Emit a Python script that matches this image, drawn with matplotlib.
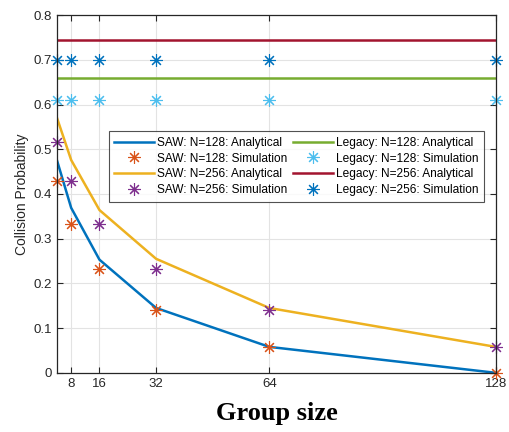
import numpy as np
import matplotlib.pyplot as plt

# group sizes
group = [4, 8, 16, 32, 64, 128]

# SAW analytical / simulation
saw128_ana = [0.475, 0.369, 0.253, 0.145, 0.058, 0.0]
saw128_sim = [0.43, 0.332, 0.232, 0.14, 0.058, 0.0]
saw256_ana = [0.57, 0.476, 0.364, 0.255, 0.145, 0.058]
saw256_sim = [0.516, 0.43, 0.332, 0.232, 0.14, 0.058]

# Legacy analytical / simulation
leg128_ana = [0.659] * 6
leg128_sim = [0.611] * 6
leg256_ana = [0.745] * 6
leg256_sim = [0.699] * 6

xticks = [8, 16, 32, 64, 128]
yticks = np.arange(0, 0.81, 0.1)

plt.rcParams['font.family'] = ['Liberation Sans', 'DejaVu Sans']

fig = plt.figure(figsize=(5.09, 4.32), dpi=100)
ax = fig.add_axes([0.112, 0.137, 0.862, 0.828])

ast = (8, 2, 0)
lw = 1.8
ms = 9

ax.plot(group, saw128_ana, color='#0072BD', lw=lw, label='SAW: N=128: Analytical')
ax.plot(group, saw128_sim, ls='none', marker=ast, ms=ms, mec='#D95319', mew=0.8,
        label='SAW: N=128: Simulation', clip_on=False)
ax.plot(group, saw256_ana, color='#EDB120', lw=lw, label='SAW: N=256: Analytical')
ax.plot(group, saw256_sim, ls='none', marker=ast, ms=ms, mec='#7E2F8E', mew=0.8,
        label='SAW: N=256: Simulation', clip_on=False)
ax.plot(group, leg128_ana, color='#77AC30', lw=lw, label='Legacy: N=128: Analytical')
ax.plot(group, leg128_sim, ls='none', marker=ast, ms=ms, mec='#4DBEEE', mew=0.8,
        label='Legacy: N=128: Simulation', clip_on=False)
ax.plot(group, leg256_ana, color='#A2142F', lw=lw, label='Legacy: N=256: Analytical')
ax.plot(group, leg256_sim, ls='none', marker=ast, ms=ms, mec='#0072BD', mew=0.8,
        label='Legacy: N=256: Simulation', clip_on=False)

ax.set_xlim(4, 128)
ax.set_ylim(0, 0.8)
ax.set_xticks(xticks)
ax.set_yticks(yticks)
ax.set_yticklabels(['0', '0.1', '0.2', '0.3', '0.4', '0.5', '0.6', '0.7', '0.8'])
ax.grid(True, color='#e3e3e3', lw=0.8)
ax.set_axisbelow(True)
ax.tick_params(direction='in', top=True, right=True, labelsize=9.5,
               colors='#262626', length=4)
for s in ax.spines.values():
    s.set_color('#262626')
    s.set_linewidth(0.9)

ax.set_ylabel('Collision Probability', fontsize=10, color='#262626', labelpad=3)
ax.set_xlabel('Group size', fontsize=19, fontweight='bold',
              family=['Liberation Serif'], labelpad=9)

leg = ax.legend(ncol=2, loc='upper left', bbox_to_anchor=(0.118, 0.675),
                fontsize=8.6, frameon=True, fancybox=False, edgecolor='#262626',
                handlelength=3.3, columnspacing=0.5, handletextpad=0.3,
                labelspacing=0.32, borderpad=0.45, borderaxespad=0)
leg.get_frame().set_linewidth(0.8)

fig.savefig('out.png', dpi=100)
